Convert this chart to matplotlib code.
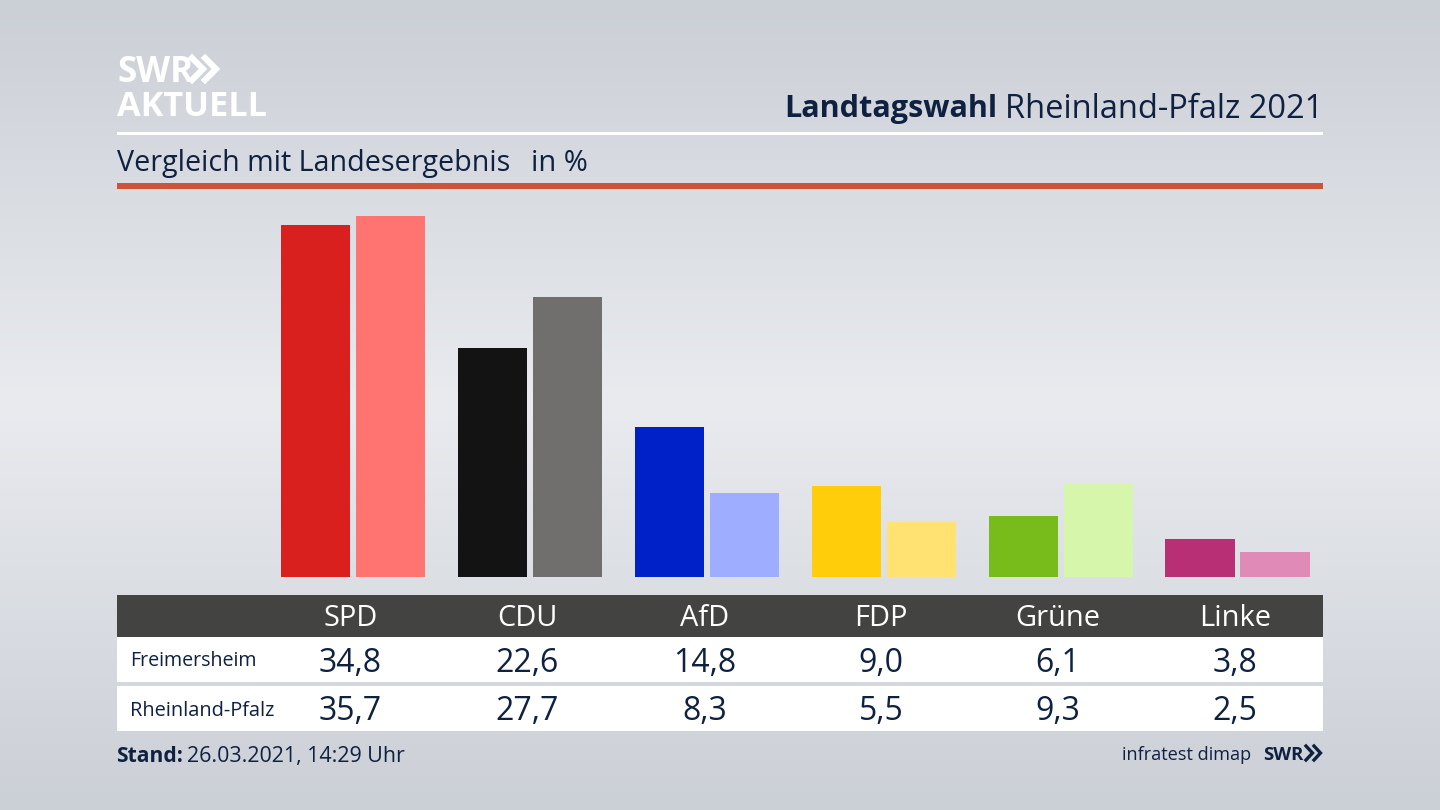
import numpy as np
import matplotlib
matplotlib.use("Agg")
import matplotlib.pyplot as plt
from matplotlib.patches import Rectangle
from matplotlib.colors import LinearSegmentedColormap

parties = ["SPD", "CDU", "AfD", "FDP", "Grüne", "Linke"]
freimersheim = [34.8, 22.6, 14.8, 9.0, 6.1, 3.8]
landesweit = [35.7, 27.7, 8.3, 5.5, 9.3, 2.5]
row_names = ["Freimersheim", "Rheinland-Pfalz"]
colors_a = ["#d9201f", "#131313", "#0020c8", "#ffcd0a", "#78bc1b", "#b92f76"]
colors_b = ["#ff7370", "#706f6d", "#9eadff", "#ffe272", "#d5f6ab", "#e08ab8"]

W, H = 1440, 810
NAVY = "#0f2140"
plt.rcParams["font.family"] = ["Open Sans", "DejaVu Sans"]
fig = plt.figure(figsize=(W / 100, H / 100), dpi=100)

# full-figure overlay in pixel coordinates
bg = fig.add_axes([0, 0, 1, 1], zorder=0)
bg.axis("off")
cmap = LinearSegmentedColormap.from_list("bgc", [
    (0.0, "#cbcfd6"), (0.5, "#e9ebef"), (1.0, "#cbcfd6")])
shade = np.linspace(0, 1, 256)[:, None] * np.ones((256, 256))
bg.imshow(shade, cmap=cmap, extent=(0, W, H, 0), aspect="auto", vmin=0, vmax=1)
bg.set_xlim(0, W)
bg.set_ylim(H, 0)

def rect(x0, y0, x1, y1, c):
    bg.add_patch(Rectangle((x0, y0), x1 - x0, y1 - y0, fc=c, ec="none"))

def fs(px):
    return px * 72 / 100

# header
rect(117, 132, 1323, 135, "white")
rect(117, 183, 1323, 189, "#cd5339")
bg.text(117, 69, "SWR", color="white", fontsize=fs(35), fontweight="bold", va="center_baseline", ha="left")
bg.text(117, 103, "AKTUELL", color="white", fontsize=fs(34.3), fontweight="bold", va="center_baseline", ha="left")
for x0 in (192, 205):
    bg.plot([x0, x0 + 11, x0], [58, 69, 80], color="white", lw=4.4, solid_joinstyle="miter")
bg.text(1323, 106, "Rheinland-Pfalz 2021", color=NAVY, fontsize=fs(32.6), va="center_baseline", ha="right")
bg.text(997, 106, "Landtagswahl", color=NAVY, fontsize=fs(30.7), fontweight="bold", va="center_baseline", ha="right")
bg.text(117, 160, "Vergleich mit Landesergebnis", color=NAVY, fontsize=fs(28.6), va="center_baseline", ha="left")
bg.text(531, 160, "in %", color=NAVY, fontsize=fs(29), va="center_baseline", ha="left")

# bars
px_per_unit = 10.13
left, right, base, top = 117, 1323, 577.4, 190
ax = fig.add_axes([left / W, 1 - base / H, (right - left) / W, (base - top) / H], zorder=1)
ax.patch.set_alpha(0)
step, c0 = 176.9, 353.2
ax.set_xlim((left - c0) / step, (right - c0) / step)
ax.set_ylim(0, (base - top) / px_per_unit)
ax.axis("off")
x = np.arange(len(parties))
bw, off = 69.5 / step, 37.5 / step
ax.bar(x - off, freimersheim, width=bw, color=colors_a)
ax.bar(x + off, landesweit, width=bw, color=colors_b)

# table
rect(117, 595, 1323, 637, "#434341")
rect(117, 637, 1323, 682, "white")
rect(117, 686, 1323, 731, "white")
cols = [350.5 + 176.9 * i for i in range(len(parties))]
fmt = lambda v: f"{v:.1f}".replace(".", ",")
for cx, p, a, b in zip(cols, parties, freimersheim, landesweit):
    bg.text(cx, 615, p, color="white", fontsize=fs(29), va="center_baseline", ha="center")
    bg.text(cx, 659, fmt(a), color=NAVY, fontsize=fs(32), va="center_baseline", ha="center")
    bg.text(cx, 708, fmt(b), color=NAVY, fontsize=fs(32), va="center_baseline", ha="center")
bg.text(130.5, 659, row_names[0], color=NAVY, fontsize=fs(19.7), va="center_baseline", ha="left")
bg.text(130.5, 708, row_names[1], color=NAVY, fontsize=fs(20), va="center_baseline", ha="left")

# footer
bg.text(116, 754, "Stand:", color=NAVY, fontsize=fs(21), fontweight="bold", va="center_baseline", ha="left")
bg.text(187, 754, "26.03.2021, 14:29 Uhr", color=NAVY, fontsize=fs(21.4), va="center_baseline", ha="left")
bg.text(1251, 753, "infratest dimap", color=NAVY, fontsize=fs(18.2), va="center_baseline", ha="right")
bg.text(1263, 753, "SWR", color=NAVY, fontsize=fs(18.5), fontweight="bold", va="center_baseline", ha="left")
for x0 in (1306, 1314):
    bg.plot([x0, x0 + 6.5, x0], [746, 753, 760], color=NAVY, lw=2.4, solid_joinstyle="miter")

fig.savefig("out.png", dpi=100)
